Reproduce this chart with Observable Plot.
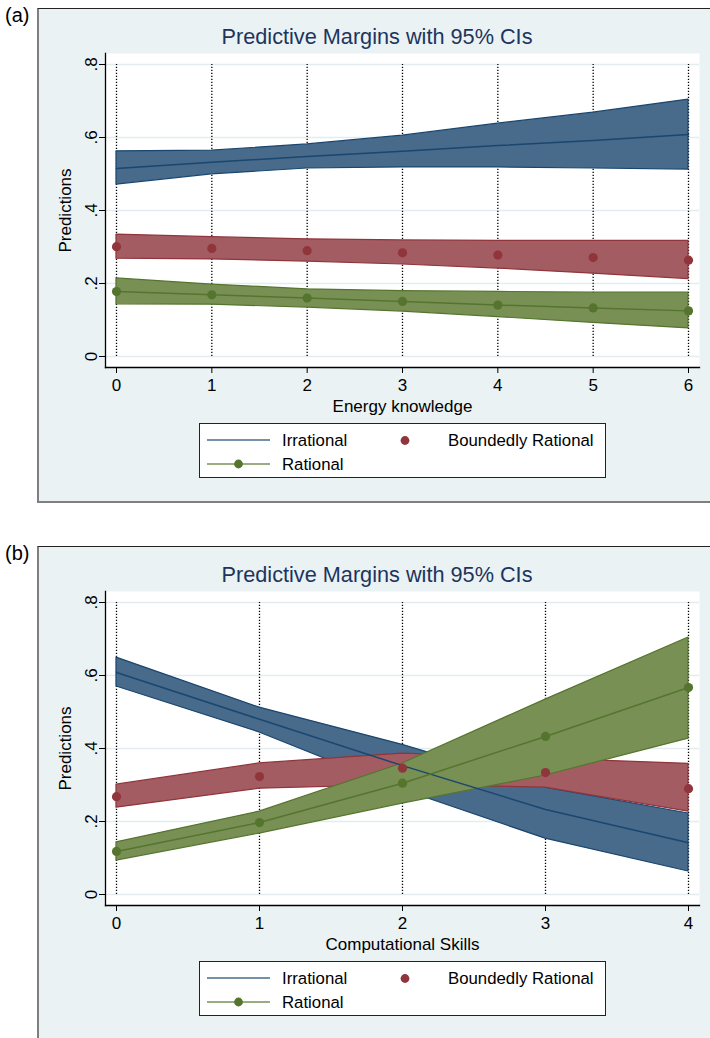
<!DOCTYPE html>
<html>
<head>
<meta charset="utf-8">
<script src="https://cdn.jsdelivr.net/npm/d3@7"></script>
<script src="https://cdn.jsdelivr.net/npm/@observablehq/plot@0.6"></script>
<style>
  body { margin: 0; background: #fff; font-family: "Liberation Sans", Arial, sans-serif; }
  #root { position: relative; width: 710px; height: 1038px; overflow: hidden; background: #fff; }
  .tag { position: absolute; left: 5px; font-size: 20px; line-height: 1; color: #000; }
  .panel { position: absolute; left: 37px; width: 720px; background: #eaf2f3;
           border-top: 1px solid #222; border-left: 2px solid #7f7f7f; border-bottom: 2px solid #7f7f7f;
           box-sizing: border-box; }
  .title { position: absolute; left: 77px; width: 600px; text-align: center; font-size: 21.7px;
           line-height: 1; color: #1c355e; white-space: nowrap; }
  .chart { position: absolute; left: 0; }
  .legend { position: absolute; left: 199px; width: 407px; height: 55px; background: #fff;
            border: 1px solid #222; box-sizing: border-box; }
  .legend svg { position: absolute; left: 0; top: 0; }
</style>
</head>
<body>
<div id="root"></div>
<script>
// ---------- data ----------
const yTicks = [0, 0.2, 0.4, 0.6, 0.8];
const seriesNames = ["Irrational", "Boundedly Rational", "Rational"];

// Panel (a): Energy knowledge
const xA = [0, 1, 2, 3, 4, 5, 6];
const irrMeanA = [0.515, 0.532, 0.548, 0.562, 0.578, 0.592, 0.608];
const irrLoA   = [0.471, 0.499, 0.515, 0.518, 0.518, 0.515, 0.512];
const irrHiA   = [0.562, 0.564, 0.581, 0.605, 0.638, 0.668, 0.704];
const brMeanA  = [0.301, 0.296, 0.290, 0.284, 0.278, 0.271, 0.264];
const brLoA    = [0.268, 0.266, 0.260, 0.252, 0.241, 0.227, 0.212];
const brHiA    = [0.334, 0.327, 0.321, 0.318, 0.317, 0.317, 0.317];
const ratMeanA = [0.178, 0.169, 0.160, 0.151, 0.141, 0.133, 0.125];
const ratLoA   = [0.143, 0.142, 0.134, 0.123, 0.108, 0.092, 0.077];
const ratHiA   = [0.214, 0.197, 0.184, 0.179, 0.177, 0.175, 0.175];

// Panel (b): Computational Skills
const xB = [0, 1, 2, 3, 4];
const irrMeanB = [0.608, 0.480, 0.353, 0.233, 0.142];
const irrLoB   = [0.570, 0.444, 0.287, 0.153, 0.063];
const irrHiB   = [0.649, 0.512, 0.410, 0.293, 0.222];
const brMeanB  = [0.268, 0.323, 0.346, 0.334, 0.290];
const brLoB    = [0.238, 0.290, 0.300, 0.293, 0.227];
const brHiB    = [0.301, 0.359, 0.386, 0.372, 0.358];
const ratMeanB = [0.118, 0.197, 0.305, 0.433, 0.567];
const ratLoB   = [0.093, 0.167, 0.249, 0.326, 0.427];
const ratHiB   = [0.143, 0.227, 0.359, 0.534, 0.704];

// ---------- styles ----------
const C = {
  irrLine: "#1a476f", irrFill: "#486a8b",
  brLine: "#90353b",  brFill: "#a45c63",
  ratLine: "#55752f", ratFill: "#789054"
};
const FONT = '"Liberation Sans", Arial, sans-serif';
const PANEL_DY = 538;

function rows(x, m, lo, hi) { return x.map((v, i) => ({x: v, mean: m[i], lo: lo[i], hi: hi[i]})); }
function yFmt(d) { return d === 0 ? "0" : d3.format(".1f")(d).replace(/^0/, ""); }

function makeChart(x, irr, br, rat, xLabel) {
  return Plot.plot({
    width: 710, height: 375,
    marginLeft: 105, marginRight: 11, marginTop: 8, marginBottom: 53,
    x: {domain: d3.extent(x), inset: 11},
    y: {domain: d3.extent(yTicks), inset: 11},
    style: {background: "transparent", fontFamily: FONT, fontSize: "17px", color: "#000", overflow: "visible"},
    marks: [
      Plot.frame({fill: "white", stroke: null}),
      Plot.gridY(yTicks, {stroke: "#e3edef", strokeOpacity: 1, strokeWidth: 1.5}),
      Plot.ruleX(x, {y1: d3.min(yTicks), y2: d3.max(yTicks), stroke: "#000", strokeWidth: 1.3, strokeDasharray: "1.3,1.7"}),
      Plot.areaY(irr, {x: "x", y1: "lo", y2: "hi", fill: C.irrFill, stroke: C.irrLine, strokeWidth: 1.2}),
      Plot.areaY(br,  {x: "x", y1: "lo", y2: "hi", fill: C.brFill,  stroke: C.brLine,  strokeWidth: 1.2}),
      Plot.areaY(rat, {x: "x", y1: "lo", y2: "hi", fill: C.ratFill, stroke: C.ratLine, strokeWidth: 1.2}),
      Plot.lineY(irr, {x: "x", y: "mean", stroke: C.irrLine, strokeWidth: 1.5}),
      Plot.dot(br,  {x: "x", y: "mean", r: 4.6, fill: C.brLine, stroke: null}),
      Plot.lineY(rat, {x: "x", y: "mean", stroke: C.ratLine, strokeWidth: 1.5}),
      Plot.dot(rat, {x: "x", y: "mean", r: 4.6, fill: C.ratLine, stroke: null}),
      Plot.axisX({ticks: x, tickSize: 6, tickPadding: 5, tickFormat: d => String(d), fontSize: 17,
                  label: xLabel, labelAnchor: "center", labelArrow: "none", labelOffset: 44}),
      Plot.axisY({ticks: yTicks, tickSize: 6, tickPadding: 3, tickRotate: -90, tickFormat: yFmt, fontSize: 17,
                  label: "Predictions", labelAnchor: "center", labelArrow: "none", labelOffset: 47}),
      Plot.frame({anchor: "left", stroke: "#000", strokeWidth: 1.3}),
      Plot.frame({anchor: "bottom", stroke: "#000", strokeWidth: 1.3})
    ]
  });
}

function legendSvg() {
  const ns = "http://www.w3.org/2000/svg";
  const svg = document.createElementNS(ns, "svg");
  svg.setAttribute("width", 407); svg.setAttribute("height", 55);
  svg.setAttribute("font-family", FONT); svg.setAttribute("font-size", "16.8");
  const add = (tag, attrs, text) => {
    const el = document.createElementNS(ns, tag);
    for (const k in attrs) el.setAttribute(k, attrs[k]);
    if (text) el.textContent = text;
    svg.appendChild(el);
  };
  add("line", {x1: 7, x2: 70, y1: 16, y2: 16, stroke: C.irrLine, "stroke-width": 1.5, "stroke-opacity": 0.8});
  add("text", {x: 82, y: 22, fill: "#000"}, seriesNames[0]);
  add("circle", {cx: 205, cy: 16.5, r: 4.4, fill: C.brLine});
  add("text", {x: 248, y: 22, fill: "#000"}, seriesNames[1]);
  add("line", {x1: 7, x2: 70, y1: 40, y2: 40, stroke: C.ratLine, "stroke-width": 1.5, "stroke-opacity": 0.8});
  add("circle", {cx: 38.5, cy: 40, r: 4.4, fill: C.ratLine});
  add("text", {x: 82, y: 46, fill: "#000"}, seriesNames[2]);
  return svg;
}

const root = document.getElementById("root");
function addPanel(k, tag, x, irr, br, rat, xLabel) {
  const dy = k * PANEL_DY;
  const t = document.createElement("div"); t.className = "tag"; t.style.top = (5 + dy) + "px"; t.textContent = tag; root.appendChild(t);
  const p = document.createElement("div"); p.className = "panel"; p.style.top = (8 + dy) + "px"; p.style.height = "495px"; root.appendChild(p);
  const ti = document.createElement("div"); ti.className = "title"; ti.style.top = (26 + dy) + "px";
  ti.textContent = "Predictive Margins with 95% CIs"; root.appendChild(ti);
  const ch = makeChart(x, irr, br, rat, xLabel); ch.classList.add("chart"); ch.style.top = (45 + dy) + "px"; root.appendChild(ch);
  const lg = document.createElement("div"); lg.className = "legend"; lg.style.top = (423 + dy) + "px";
  lg.appendChild(legendSvg()); root.appendChild(lg);
}

addPanel(0, "(a)", xA, rows(xA, irrMeanA, irrLoA, irrHiA), rows(xA, brMeanA, brLoA, brHiA), rows(xA, ratMeanA, ratLoA, ratHiA), "Energy knowledge");
addPanel(1, "(b)", xB, rows(xB, irrMeanB, irrLoB, irrHiB), rows(xB, brMeanB, brLoB, brHiB), rows(xB, ratMeanB, ratLoB, ratHiB), "Computational Skills");
</script>
</body>
</html>
